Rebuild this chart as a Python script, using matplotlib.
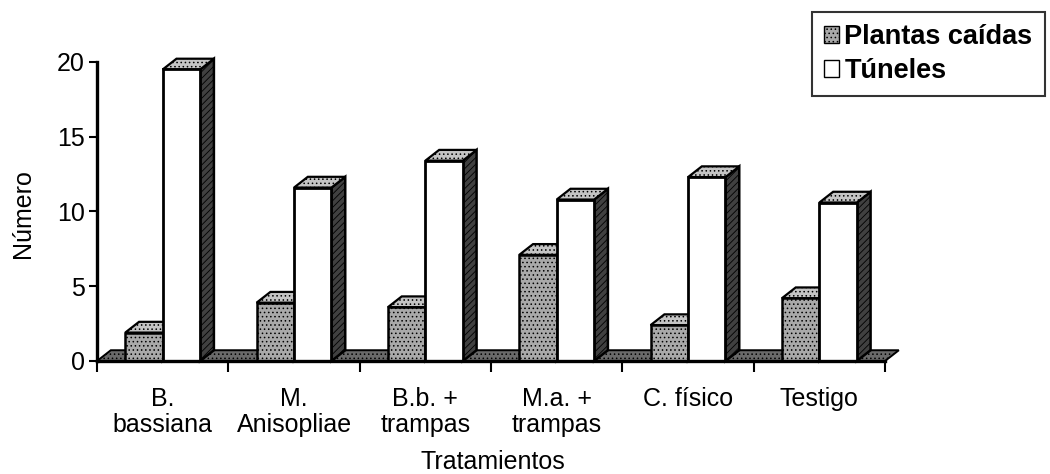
import matplotlib.pyplot as plt
from matplotlib.patches import Polygon, Patch

plt.rcParams['font.family'] = ['Liberation Sans', 'DejaVu Sans']
plt.rcParams['hatch.linewidth'] = 0.6

tratamientos = ["B.\nbassiana", "M.\nAnisopliae", "B.b. +\ntrampas",
                "M.a. +\ntrampas", "C. físico", "Testigo"]
plantas_caidas = [1.9, 3.9, 3.6, 7.1, 2.4, 4.2]
tuneles = [19.5, 11.6, 13.4, 10.8, 12.3, 10.6]
yticks = [0, 5, 10, 15, 20]

W = 0.285     # ancho de barra (unidades de categoría)
DX = 0.105    # profundidad 3D en x (datos)
DY = 0.72     # profundidad 3D en y (datos)

FRONT_P = dict(facecolor="#a9a9a9", edgecolor="black", hatch="....", linewidth=1.8)
FRONT_T = dict(facecolor="white", edgecolor="black", linewidth=2.0)
SIDE = dict(facecolor="#404040", edgecolor="black", hatch="/////", linewidth=1.8)
TOP = dict(facecolor="#c4c4c4", edgecolor="black", hatch="....", linewidth=1.6)
FLOOR = dict(facecolor="#6a6a6a", edgecolor="black", hatch="....", linewidth=1.4)


def caja(ax, x0, h, front, z):
    x1 = x0 + W
    side = Polygon([(x1, 0), (x1 + DX, DY), (x1 + DX, h + DY), (x1, h)],
                   closed=True, clip_on=False, zorder=z, **SIDE)
    top = Polygon([(x0, h), (x0 + DX, h + DY), (x1 + DX, h + DY), (x1, h)],
                  closed=True, clip_on=False, zorder=z + 0.001, **TOP)
    ax.add_patch(side)
    ax.add_patch(top)
    ax.bar(x0, h, width=W, align="edge", clip_on=False, zorder=z + 0.002, **front)


fig = plt.figure(figsize=(10.5, 4.74), dpi=100)
ax = fig.add_axes([0.0924, 0.2384, 0.7505, 0.6308])

n = len(tratamientos)
ax.set_xlim(-0.5, n - 0.5)
ax.set_ylim(0, 20)

ax.add_patch(Polygon([(-0.5, 0), (n - 0.5, 0), (n - 0.5 + DX, DY), (-0.5 + DX, DY)],
                     closed=True, clip_on=False, zorder=1.5, **FLOOR))

for i in range(n):
    z = 2 + i * 0.1
    caja(ax, i - W, plantas_caidas[i], FRONT_P, z)
    caja(ax, i, tuneles[i], FRONT_T, z + 0.05)

for s in ["top", "right"]:
    ax.spines[s].set_visible(False)
ax.spines["left"].set_linewidth(2.4)
ax.spines["bottom"].set_linewidth(2.4)
ax.spines["left"].set_zorder(5)
ax.spines["bottom"].set_zorder(5)

ax.set_yticks(yticks)
ax.set_yticklabels([str(v) for v in yticks], fontsize=18)
ax.tick_params(axis="y", length=6, width=1.5, pad=3)

ax.set_xticks(range(n))
ax.set_xticklabels(tratamientos, fontsize=18, linespacing=1.1)
ax.set_xticks([i - 0.5 for i in range(n + 1)], minor=True)
ax.tick_params(axis="x", which="major", length=0, pad=19)
ax.tick_params(axis="x", which="minor", length=8, width=1.5)

fig.text(0.022, 0.55, "Número", rotation=90, fontsize=18, ha="center", va="center")
fig.text(0.469, 0.025, "Tratamientos", fontsize=18, ha="center", va="center")

handles = [Patch(facecolor="#a9a9a9", edgecolor="black", hatch="...."),
           Patch(facecolor="white", edgecolor="black")]
leg = fig.legend(handles, ["Plantas caídas", "Túneles"], loc="upper right",
                 bbox_to_anchor=(0.995, 0.975), frameon=True, fancybox=False,
                 prop={"size": 19.5, "weight": "bold"}, handlelength=0.55,
                 handleheight=0.55, handletextpad=0.2, labelspacing=0.3,
                 borderpad=0.45, borderaxespad=0)
leg.get_frame().set_edgecolor("black")
leg.get_frame().set_linewidth(1.5)

fig.savefig("out.png", dpi=100)
